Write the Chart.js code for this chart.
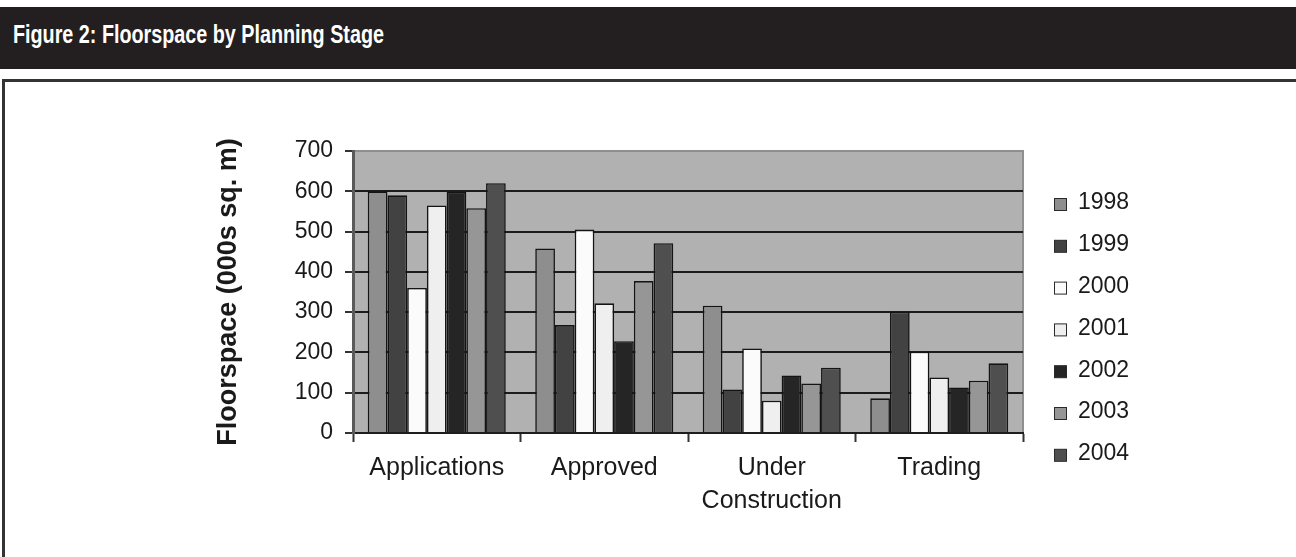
<!DOCTYPE html>
<html>
<head>
<meta charset="utf-8">
<script src="https://cdn.jsdelivr.net/npm/chart.js@4.4.1/dist/chart.umd.min.js"></script>
<style>
  html, body { margin: 0; padding: 0; background: #fff; }
  body { width: 1296px; height: 557px; position: relative; overflow: hidden;
         font-family: "Liberation Sans", Arial, sans-serif; }
  #hdr { position: absolute; left: 0; top: 7px; width: 1296px; height: 62px; background: #231f20; }
  #hdr span { position: absolute; left: 13px; top: 15px; color: #fff; font-weight: bold;
              font-size: 25px; line-height: 25px; white-space: nowrap;
              transform: scaleX(0.79); transform-origin: 0 0; }
  #frame { position: absolute; left: 2px; top: 79px; width: 1400px; height: 600px;
           border-left: 3px solid #333; border-top: 3px solid #333; }
  #wrap { position: absolute; left: 0; top: 80px; width: 1296px; height: 477px; }
</style>
</head>
<body>
<div id="hdr"><span>Figure 2: Floorspace by Planning Stage</span></div>
<div id="frame"></div>
<div id="wrap"><canvas id="c" width="1296" height="477"></canvas></div>
<script>
// Planning stages (multi-line where the label wraps)
const stages = [['Applications'], ['Approved'], ['Under', 'Construction'], ['Trading']];
const years = ['1998', '1999', '2000', '2001', '2002', '2003', '2004'];

// Floorspace, 000s sq. m, in stage order
const v1998 = [600, 458, 316, 86];
const v1999 = [590, 268, 108, 301];
const v2000 = [360, 505, 210, 202];
const v2001 = [565, 322, 80, 138];
const v2002 = [598, 228, 143, 113];
const v2003 = [558, 377, 123, 130];
const v2004 = [620, 471, 162, 173];

const yTicks = [0, 100, 200, 300, 400, 500, 600, 700];

const fills = ['#8e8e8e', '#424242', '#fbfbfb', '#efefef', '#252525', '#969696', '#4f4f4f'];
const seriesValues = [v1998, v1999, v2000, v2001, v2002, v2003, v2004];

const FONT = '"Liberation Sans", Arial, sans-serif';

// grey plot area with a light frame
const plotBg = {
  id: 'plotBg',
  beforeDraw(chart) {
    const { ctx, chartArea: a } = chart;
    ctx.save();
    ctx.fillStyle = '#b1b1b1';
    ctx.fillRect(a.left, a.top, a.width, a.height);
    ctx.strokeStyle = '#8f8f8f';
    ctx.lineWidth = 2;
    ctx.strokeRect(a.left, a.top, a.width, a.height);
    ctx.restore();
  }
};

// legend column to the right of the plot
const sideLegend = {
  id: 'sideLegend',
  afterDraw(chart) {
    const { ctx, chartArea: a } = chart;
    ctx.save();
    ctx.font = '23px ' + FONT;
    ctx.textBaseline = 'middle';
    ctx.textAlign = 'left';
    chart.data.datasets.forEach((ds, i) => {
      const y = a.top + 51 + i * 41.8;
      const bx = a.right + 31.5;
      ctx.fillStyle = ds.backgroundColor;
      ctx.fillRect(bx, y - 3.5, 12, 12);
      ctx.strokeStyle = '#2a2a2a';
      ctx.lineWidth = 1;
      ctx.strokeRect(bx, y - 3.5, 12, 12);
      ctx.fillStyle = '#1a1a1a';
      ctx.fillText(ds.label, a.right + 55, y + 1);
    });
    ctx.restore();
  }
};

new Chart(document.getElementById('c'), {
  type: 'bar',
  data: {
    labels: stages,
    datasets: years.map((yr, i) => ({
      label: yr,
      data: seriesValues[i],
      backgroundColor: fills[i],
      borderColor: '#141414',
      borderWidth: 1.6,
      borderSkipped: 'start',
      categoryPercentage: 0.824,
      barPercentage: 1
    }))
  },
  options: {
    responsive: false,
    animation: false,
    layout: { padding: { left: 212, right: 273, top: 71, bottom: 44 } },
    plugins: { legend: { display: false }, tooltip: { enabled: false } },
    scales: {
      x: {
        grid: { offset: true, drawOnChartArea: false, drawTicks: true,
                tickLength: 9, tickColor: '#333', tickWidth: 2 },
        border: { color: '#1e1e1e', width: 2 },
        ticks: { font: { size: 25, family: FONT, lineHeight: 1.32 }, color: '#1a1a1a',
                 padding: 10, maxRotation: 0, autoSkip: false },
        afterFit(s) { s.height = 80; }
      },
      y: {
        min: yTicks[0],
        max: yTicks[yTicks.length - 1],
        afterBuildTicks(s) { s.ticks = yTicks.map(v => ({ value: v })); },
        ticks: { font: { size: 23, family: FONT }, color: '#1a1a1a', padding: 12 },
        grid: {
          color: ctx => (ctx.tick && ctx.tick.value === 700) ? 'rgba(0,0,0,0)' : '#1c1c1c',
          lineWidth: 2, tickLength: 8, tickColor: '#333', tickWidth: 2
        },
        border: { color: '#5a5a5a', width: 3 },
        title: { display: true, text: 'Floorspace (000s sq. m)',
                 font: { size: 27, weight: 'bold', family: FONT }, color: '#1a1a1a',
                 padding: { top: 0, bottom: 0 } },
        afterFit(s) { s.width = 141; }
      }
    }
  },
  plugins: [plotBg, sideLegend]
});
</script>
</body>
</html>
